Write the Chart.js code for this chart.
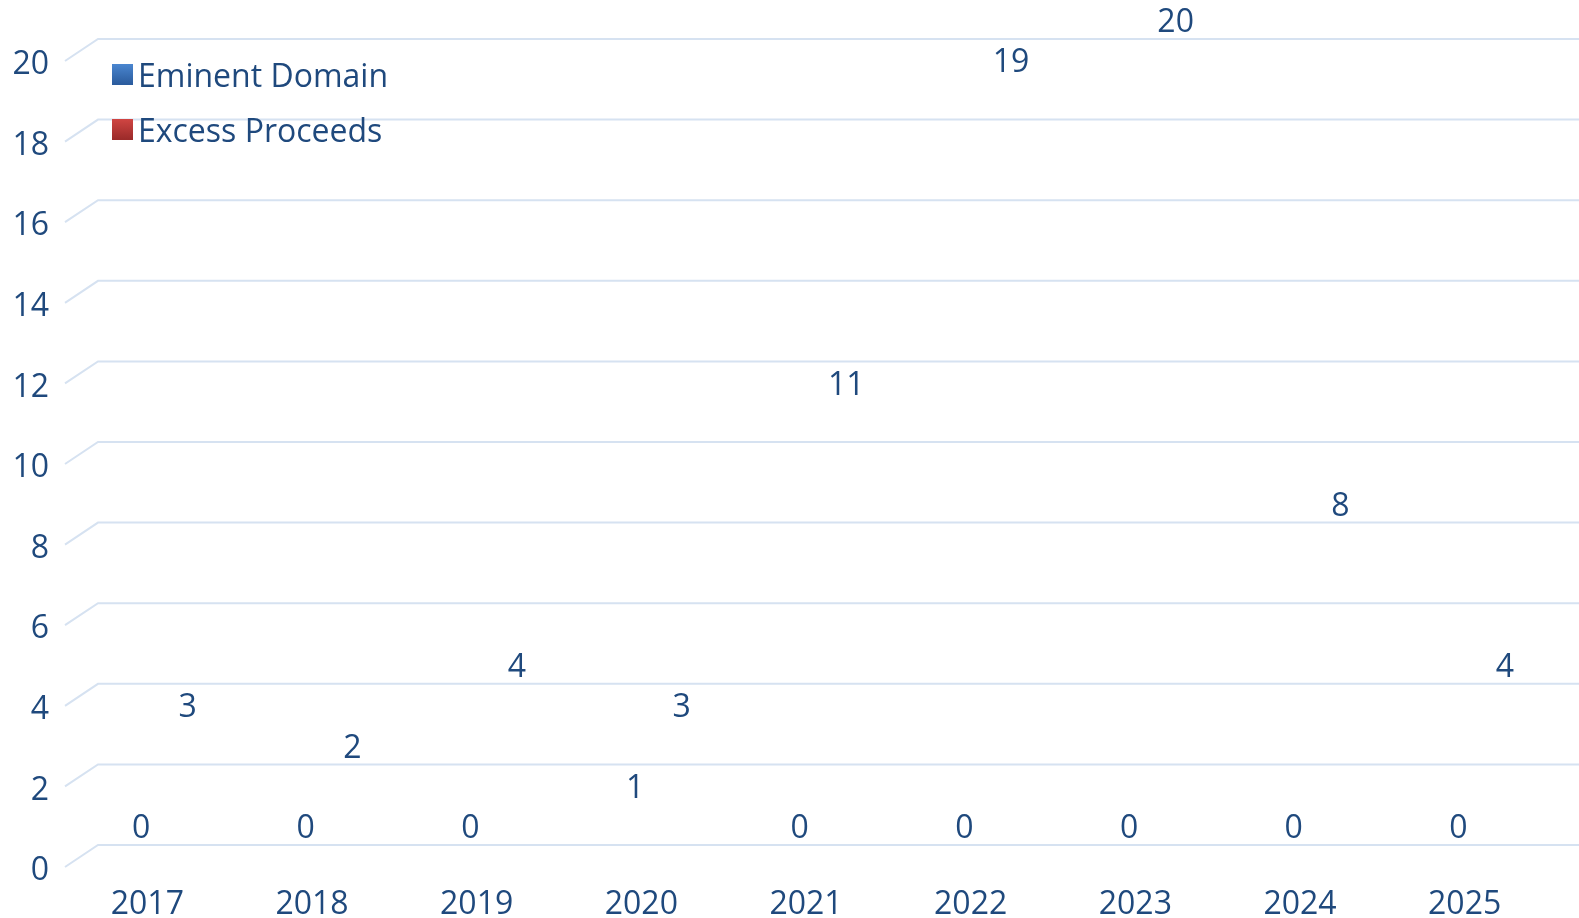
<!DOCTYPE html>
<html lang="en">
<head>
    <meta charset="UTF-8">
    <title>Eminent Domain / Excess Proceeds</title>
    <script src="https://cdn.jsdelivr.net/npm/chart.js"></script>
    <style>
        html, body {
            margin: 0;
            padding: 0;
            background: #fff;
            overflow: hidden;
        }
        #wrap {
            width: 1579px;
            height: 918px;
        }
    </style>
</head>
<body>
    <div id="wrap"><canvas id="chart"></canvas></div>

    <script>
        const years = ['2017', '2018', '2019', '2020', '2021', '2022', '2023', '2024', '2025'];
        const eminentDomain = [0, 0, 0, 1, 0, 0, 0, 0, 0];
        const excessProceeds = [3, 2, 4, 3, 11, 19, 20, 8, 4];
        const yTicks = [0, 2, 4, 6, 8, 10, 12, 14, 16, 18, 20];

        const textColor = '#1F497D';
        const gridColor = '#D6E2F1';
        const font = { family: 'Open Sans', size: 32 };
        const depthX = 33, depthY = 22; // 3d back wall offset

        // grid lines drawn like the 3d wall: short diagonal then flat line on the back
        const wallGrid = {
            id: 'wallGrid',
            beforeDatasetsDraw(chart) {
                const ctx = chart.ctx;
                const y = chart.scales.y;
                const area = chart.chartArea;
                ctx.save();
                ctx.strokeStyle = gridColor;
                ctx.lineWidth = 2;
                yTicks.forEach(t => {
                    const py = y.getPixelForValue(t);
                    ctx.beginPath();
                    ctx.moveTo(area.left, py);
                    ctx.lineTo(area.left + depthX, py - depthY);
                    ctx.lineTo(area.right + depthX, py - depthY);
                    ctx.stroke();
                });
                ctx.restore();
            }
        };

        // value labels sitting above each (invisible) bar
        const valueLabels = {
            id: 'valueLabels',
            afterDatasetsDraw(chart) {
                const ctx = chart.ctx;
                ctx.save();
                ctx.fillStyle = textColor;
                ctx.font = `${font.size}px "${font.family}"`;
                ctx.textAlign = 'center';
                ctx.textBaseline = 'middle';
                chart.data.datasets.forEach((ds, di) => {
                    chart.getDatasetMeta(di).data.forEach((bar, i) => {
                        ctx.fillText(ds.data[i], bar.x + 17, bar.y - 38);
                    });
                });
                ctx.restore();
            }
        };

        // legend in the top-left corner
        const cornerLegend = {
            id: 'cornerLegend',
            afterDraw(chart) {
                const ctx = chart.ctx;
                const rows = [74, 129];
                ctx.save();
                ctx.font = `${font.size}px "${font.family}"`;
                ctx.textBaseline = 'middle';
                chart.data.datasets.forEach((ds, i) => {
                    const cy = rows[i];
                    const g = ctx.createLinearGradient(0, cy - 10, 0, cy + 10);
                    g.addColorStop(0, ds.legendTop);
                    g.addColorStop(1, ds.legendBottom);
                    ctx.fillStyle = g;
                    ctx.fillRect(112, cy - 10, 21, 21);
                    ctx.fillStyle = textColor;
                    ctx.fillText(ds.label, 138, cy + 4);
                });
                ctx.restore();
            }
        };

        new Chart(document.getElementById('chart'), {
            type: 'bar',
            data: {
                labels: years,
                datasets: [
                    {
                        label: 'Eminent Domain',
                        data: eminentDomain,
                        backgroundColor: 'rgba(0,0,0,0)',
                        legendTop: '#4A86D0',
                        legendBottom: '#2B5C9E'
                    },
                    {
                        label: 'Excess Proceeds',
                        data: excessProceeds,
                        backgroundColor: 'rgba(0,0,0,0)',
                        legendTop: '#D04542',
                        legendBottom: '#9C2B2A'
                    }
                ]
            },
            options: {
                responsive: true,
                maintainAspectRatio: false,
                animation: false,
                categoryPercentage: 0.566,
                barPercentage: 0.9,
                layout: { padding: { top: 61, right: 32, left: 0, bottom: 0 } },
                plugins: {
                    legend: { display: false },
                    tooltip: { enabled: false }
                },
                scales: {
                    x: {
                        grid: { display: false, drawTicks: false },
                        border: { display: false },
                        ticks: { color: textColor, font: font, padding: 19, maxRotation: 0 },
                        afterFit(s) { s.height = 51; }
                    },
                    y: {
                        min: 0,
                        max: 20,
                        grid: { display: false, drawTicks: false },
                        border: { display: false },
                        ticks: { color: textColor, font: font, stepSize: 2, padding: 16, labelOffset: 4 },
                        afterFit(s) { s.width = 65; }
                    }
                }
            },
            plugins: [wallGrid, valueLabels, cornerLegend]
        });
    </script>
</body>
</html>
